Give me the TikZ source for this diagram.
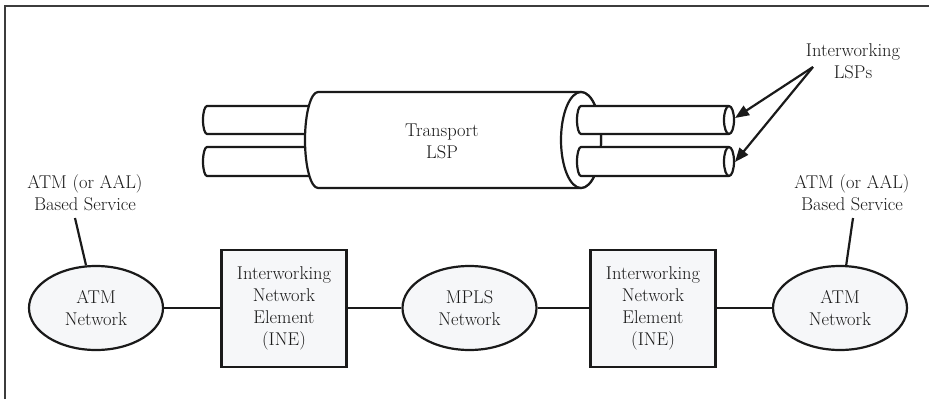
\documentclass[tikz,border=0pt]{standalone}
\usepackage{fontspec}
\usetikzlibrary{arrows.meta,shapes.geometric}
\definecolor{boxfill}{HTML}{F6F7F9}
\definecolor{ink}{HTML}{1A1A1A}
\begin{document}
\begin{tikzpicture}[x=1pt,y=1pt,
  every node/.style={font=\fontsize{18.5}{22}\selectfont\addfontfeatures{FakeBold=0.6}, text=ink},
  outline/.style={draw=ink, line width=2.2pt},
  netcloud/.style={outline, ellipse, fill=boxfill, minimum width=134pt, minimum height=84pt, inner sep=0pt, align=center},
  inebox/.style={outline, rectangle, fill=boxfill, minimum width=125pt, minimum height=117pt, inner sep=0pt, align=center},
  tube/.style={outline, fill=white, line join=round},
  link/.style={draw=ink, line width=2.2pt},
  pointer/.style={draw=ink, line width=2.2pt, -{Triangle[length=14pt,width=11pt]}},
  caption/.style={align=center}]
\useasboundingbox (0,0) rectangle (929,-399);

% frame (top and left edges)
\draw[draw=ink!85, line width=2.2pt] (5,-399) -- (5,-6) -- (929,-6);

% inner tubes entering the transport LSP from the left
\path[tube] (320,-106) -- (207,-106) arc[start angle=90, end angle=270, x radius=4pt, y radius=14pt] -- (320,-134);
\path[tube] (320,-147) -- (207,-147) arc[start angle=90, end angle=270, x radius=4pt, y radius=14.5pt] -- (320,-176);

% transport LSP body
\path[tube] (318,-92) -- (581,-92)
  arc[start angle=90, end angle=-90, x radius=20pt, y radius=48pt]
  -- (318,-188)
  arc[start angle=270, end angle=90, x radius=13pt, y radius=48pt] -- cycle;
\path[tube] (581,-140) ellipse[x radius=20pt, y radius=48pt];

% inner tubes leaving on the right
\path[tube] (729,-106) -- (581,-106) arc[start angle=90, end angle=270, x radius=4pt, y radius=14pt] -- (729,-134);
\path[tube] (729,-120) ellipse[x radius=5pt, y radius=14pt];
\path[tube] (729,-147) -- (581,-147) arc[start angle=90, end angle=270, x radius=4pt, y radius=14.5pt] -- (729,-176);
\path[tube] (729,-161.5) ellipse[x radius=5pt, y radius=14.5pt];

\node[caption] (transport) at (442,-141) {Transport\\LSP};

% interworking LSP callout
\node[caption] (iwlsp) at (853,-61) {Interworking\\LSPs};
\coordinate (iwsrc) at (813,-67);
\coordinate (tubeA) at (735,-118);
\coordinate (tubeB) at (735,-162);
\draw[pointer] (iwsrc) -- (tubeA);
\draw[pointer] (iwsrc) -- (tubeB);

% network chain
\node[netcloud] (atmL) at (96,-308) {ATM\\Network};
\node[inebox] (ineL) at (284,-308.5) {Interworking\\Network\\Element\\(INE)};
\node[netcloud] (mpls) at (469.5,-308) {MPLS\\Network};
\node[inebox] (ineR) at (653,-308.5) {Interworking\\Network\\Element\\(INE)};
\node[netcloud] (atmR) at (840,-308) {ATM\\Network};

\draw[link] (atmL.east) -- (ineL.west |- atmL.east);
\draw[link] (ineL.east |- mpls.west) -- (mpls.west);
\draw[link] (mpls.east) -- (ineR.west |- mpls.east);
\draw[link] (ineR.east |- atmR.west) -- (atmR.west);

% services
\node[caption] (svcL) at (85,-193) {ATM (or AAL)\\Based Service};
\node[caption] (svcR) at (852,-193) {ATM (or AAL)\\Based Service};
\coordinate (svcLfoot) at (75,-218);
\coordinate (svcRfoot) at (853,-218);
\draw[link] (svcLfoot) -- (atmL);
\draw[link] (svcRfoot) -- (atmR);
\end{tikzpicture}
\end{document}
